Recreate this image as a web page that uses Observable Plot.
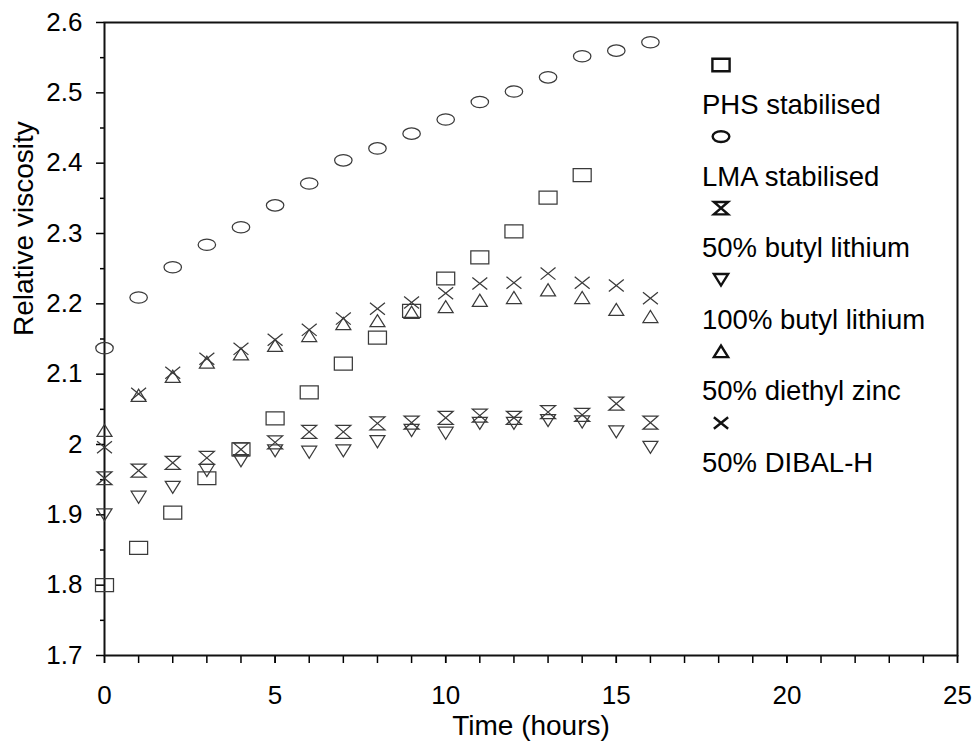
<!DOCTYPE html>
<html>
<head>
<meta charset="utf-8">
<script src="https://cdn.jsdelivr.net/npm/d3@7"></script>
<script src="https://cdn.jsdelivr.net/npm/@observablehq/plot@0.6"></script>
<style>
  html, body { margin: 0; padding: 0; background: #fff; }
  #wrap { position: relative; width: 972px; height: 741px; font-family: "Liberation Sans", Arial, sans-serif; color: #000; }
  #legend { position: absolute; left: 0; top: 0; pointer-events: none; }
</style>
</head>
<body>
<div id="wrap"></div>
<script>
// ---- data ----
const hours = [0, 1, 2, 3, 4, 5, 6, 7, 8, 9, 10, 11, 12, 13, 14, 15, 16];
const seriesNames = ["PHS stabilised", "LMA stabilised", "50% butyl lithium", "100% butyl lithium", "50% diethyl zinc", "50% DIBAL-H"];
const phsStabilised = [1.800, 1.853, 1.903, 1.952, 1.993, 2.037, 2.074, 2.115, 2.152, 2.190, 2.236, 2.266, 2.303, 2.351, 2.383];
const lmaStabilised = [2.137, 2.209, 2.252, 2.284, 2.309, 2.340, 2.371, 2.404, 2.421, 2.442, 2.462, 2.487, 2.502, 2.522, 2.552, 2.560, 2.572];
const butylLithium50 = [1.952, 1.963, 1.974, 1.981, 1.993, 2.003, 2.018, 2.018, 2.030, 2.031, 2.038, 2.041, 2.038, 2.046, 2.042, 2.058, 2.031];
const butylLithium100 = [1.900, 1.925, 1.939, 1.963, 1.977, 1.991, 1.989, 1.991, 2.004, 2.020, 2.016, 2.030, 2.030, 2.034, 2.032, 2.018, 1.996];
const diethylZinc50 = [2.020, 2.070, 2.097, 2.117, 2.129, 2.141, 2.155, 2.172, 2.176, 2.188, 2.196, 2.205, 2.209, 2.220, 2.209, 2.192, 2.182];
const dibalH50 = [1.996, 2.072, 2.102, 2.122, 2.136, 2.149, 2.163, 2.179, 2.193, 2.202, 2.215, 2.229, 2.230, 2.243, 2.230, 2.226, 2.208];

const xTickLabels = [0, 5, 10, 15, 20, 25];
const xMinorTicks = [0, 1, 2, 3, 4, 5, 6, 7, 8, 9, 10, 11, 12, 13, 14, 15, 16, 17, 18, 19, 20, 21, 22, 23, 24, 25];
const yTickLabels = [1.7, 1.8, 1.9, 2.0, 2.1, 2.2, 2.3, 2.4, 2.5, 2.6];
const yMinorTicks = [1.75, 1.85, 1.95, 2.05, 2.15, 2.25, 2.35, 2.45, 2.55];
const xLabel = "Time (hours)";
const yLabel = "Relative viscosity";

// ---- custom marker shapes (slightly wide, as in the scanned figure) ----
function mk(fn) { return { draw(ctx, size) { const r = Math.sqrt(size / Math.PI); fn(ctx, r); } }; }
const symSquare = mk((c, r) => { c.rect(-r, -0.72 * r, 2 * r, 1.44 * r); });
const symEllipse = mk((c, r) => {
  const rx = 0.97 * r, ry = 0.63 * r, k = 0.5523;
  c.moveTo(rx, 0);
  c.bezierCurveTo(rx, k * ry, k * rx, ry, 0, ry);
  c.bezierCurveTo(-k * rx, ry, -rx, k * ry, -rx, 0);
  c.bezierCurveTo(-rx, -k * ry, -k * rx, -ry, 0, -ry);
  c.bezierCurveTo(k * rx, -ry, rx, -k * ry, rx, 0);
  c.closePath();
});
const symHourglass = mk((c, r) => {
  const w = 0.83 * r, h = 0.72 * r;
  c.moveTo(-w, -h); c.lineTo(w, -h); c.lineTo(-w, h); c.lineTo(w, h); c.closePath();
});
const symDown = mk((c, r) => {
  const w = 0.83 * r, h = 0.67 * r;
  c.moveTo(-w, -h); c.lineTo(w, -h); c.lineTo(0, h); c.closePath();
});
const symUp = mk((c, r) => {
  const w = 0.83 * r, h = 0.67 * r;
  c.moveTo(-w, h); c.lineTo(w, h); c.lineTo(0, -h); c.closePath();
});
const symCross = mk((c, r) => {
  const w = 0.83 * r, h = 0.67 * r;
  c.moveTo(-w, -h); c.lineTo(w, h); c.moveTo(w, -h); c.lineTo(-w, h);
});

const seriesValues = [phsStabilised, lmaStabilised, butylLithium50, butylLithium100, diethylZinc50, dibalH50];
const seriesSymbols = [symSquare, symEllipse, symHourglass, symDown, symUp, symCross];

const FONT = "Liberation Sans, Arial, sans-serif";
const markStroke = "#3a3a3a";

const dotMarks = seriesValues.map((vals, i) =>
  Plot.dot(vals.map((v, j) => ({ t: hours[j], v })), {
    x: "t", y: "v", symbol: seriesSymbols[i], r: 9,
    stroke: markStroke, strokeWidth: 1.25, fill: "none"
  })
);

const chart = Plot.plot({
  width: 972,
  height: 741,
  marginLeft: 104,
  marginRight: 15,
  marginTop: 22,
  marginBottom: 86,
  style: { fontFamily: FONT, color: "#000", background: "#fff", overflow: "visible" },
  x: { domain: [0, 25] },
  y: { domain: [1.7, 2.6] },
  marks: [
    Plot.axisX({ ticks: xMinorTicks, tickSize: 8, tickFormat: () => "", label: null, strokeWidth: 1.5 }),
    Plot.axisX({ ticks: xTickLabels, tickSize: 8, tickPadding: 22, fontSize: 26, label: null, strokeWidth: 1.5, tickFormat: d => String(d) }),
    Plot.axisY({ ticks: yMinorTicks, tickSize: 4, tickFormat: () => "", label: null, strokeWidth: 1.5 }),
    Plot.axisY({ ticks: yTickLabels, tickSize: 8, tickPadding: 14, fontSize: 26, label: null, strokeWidth: 1.5, tickFormat: d => d3.format("~g")(d) }),
    Plot.frame({ stroke: "#111", strokeWidth: 2 }),
    ...dotMarks,
    Plot.text([xLabel], { text: d => d, frameAnchor: "bottom", lineAnchor: "bottom", dy: 79, fontSize: 28, fill: "#000" }),
    Plot.text([yLabel], { text: d => d, frameAnchor: "left", rotate: -90, lineAnchor: "bottom", dx: -72, dy: -3, fontSize: 28, fill: "#000" })
  ]
});

const wrap = document.getElementById("wrap");
wrap.appendChild(chart);

// ---- legend overlay (inside the frame, as in the reference) ----
const legendMarkerX = 721, legendTextX = 702;
const legendMarkerY0 = 65, legendTextY0 = 114, legendStep = 71.6;
const lg = d3.create("svg").attr("id", "legend").attr("width", 972).attr("height", 741)
  .style("position", "absolute").style("left", "0px").style("top", "0px");
seriesNames.forEach((name, i) => {
  lg.append("path")
    .attr("d", d3.symbol(seriesSymbols[i], Math.PI * 8.6 * 8.6)())
    .attr("transform", `translate(${legendMarkerX},${legendMarkerY0 + i * legendStep})`)
    .attr("fill", "none").attr("stroke", "#111").attr("stroke-width", 2.4);
  lg.append("text")
    .attr("x", legendTextX).attr("y", legendTextY0 + i * legendStep)
    .attr("font-family", FONT).attr("font-size", 27.5).attr("fill", "#000")
    .text(name);
});
wrap.appendChild(lg.node());
</script>
</body>
</html>
